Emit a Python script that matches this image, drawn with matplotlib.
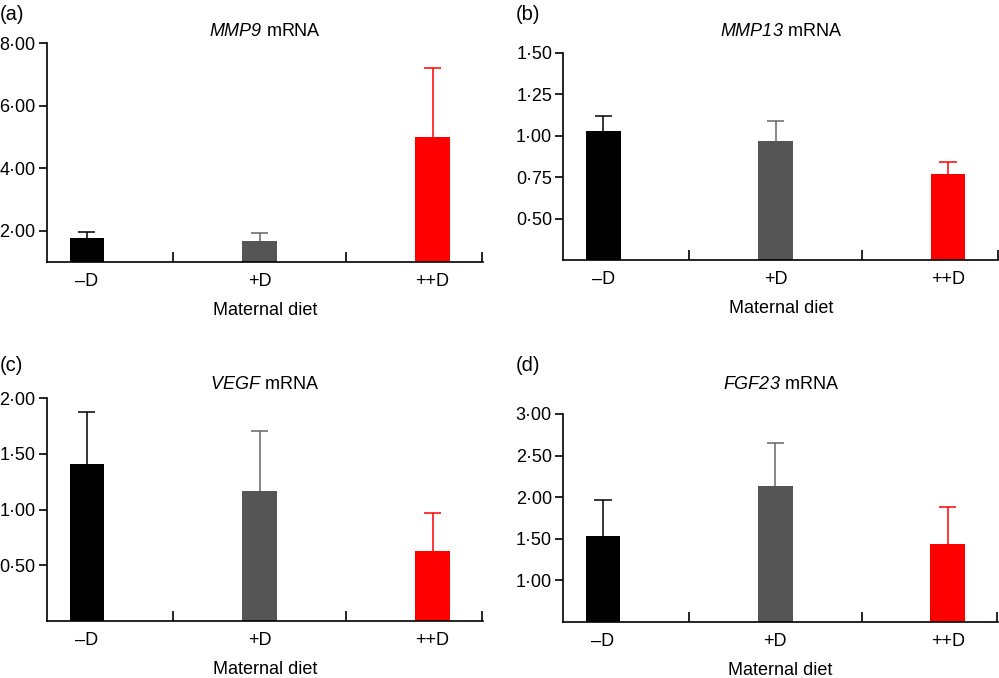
import matplotlib
matplotlib.use("Agg")
from matplotlib import pyplot as plt

plt.rcParams["font.family"] = ["Liberation Sans", "DejaVu Sans"]
plt.rcParams["mathtext.fontset"] = "custom"
plt.rcParams["mathtext.rm"] = "Liberation Sans:italic"
plt.rcParams["mathtext.it"] = "Liberation Sans:italic"

# data
groups = ["\u2013D", "+D", "++D"]
colors = ["#000000", "#555555", "#ff0000"]
err_colors = ["#000000", "#666666", "#ff0000"]

mmp9_mean = [1.76, 1.66, 5.00]
mmp9_err = [0.21, 0.27, 2.20]
mmp13_mean = [1.026, 0.966, 0.766]
mmp13_err = [0.094, 0.123, 0.074]
vegf_mean = [1.41, 1.165, 0.626]
vegf_err = [0.467, 0.545, 0.347]
fgf23_mean = [1.536, 2.133, 1.43]
fgf23_err = [0.434, 0.512, 0.45]

mmp9_ticks = [2, 4, 6, 8]
mmp13_ticks = [0.5, 0.75, 1.0, 1.25, 1.5]
vegf_ticks = [0.5, 1.0, 1.5, 2.0]
fgf23_ticks = [1.0, 1.5, 2.0, 2.5, 3.0]

panels = [
    ("(a)", "MMP9", mmp9_mean, mmp9_err, (1, 8), mmp9_ticks),
    ("(b)", "MMP13", mmp13_mean, mmp13_err, (0.25, 1.5), mmp13_ticks),
    ("(c)", "VEGF", vegf_mean, vegf_err, (0, 2), vegf_ticks),
    ("(d)", "FGF23", fgf23_mean, fgf23_err, (0.5, 3), fgf23_ticks),
]

W, H = 999, 678
# axes boxes in pixels: left, right, top, bottom
boxes = [
    (46.7, 483.0, 43.3, 262.0),
    (563.3, 998.3, 52.7, 260.0),
    (46.7, 483.0, 398.3, 620.7),
    (563.0, 998.0, 414.0, 621.7),
]
label_pos = [(0, 14), (516, 14), (0, 366), (516, 366)]
title_y = [31, 31, 385, 385]

fig = plt.figure(figsize=(W / 100, H / 100), dpi=100)
fs = 13

for (lab, gene, mean, err, ylim, yt), (l, r, t, b), (lx, ly), ty in zip(panels, boxes, label_pos, title_y):
    ax = fig.add_axes([l / W, 1 - b / H, (r - l) / W, (b - t) / H])
    x = list(range(len(groups)))
    ax.bar(x, mean, width=0.2, color=colors, zorder=2)
    tops = [m + e for m, e in zip(mean, err)]
    # upper error bars only, with a cap
    ax.vlines(x, mean, tops, colors=err_colors, linewidth=1.1, zorder=1)
    ax.hlines(tops, [xi - 0.05 for xi in x], [xi + 0.05 for xi in x],
              colors=err_colors, linewidth=1.1, zorder=1)
    xmin, xmax = -0.232, 2.292
    ax.set_xlim(xmin, xmax)
    ax.set_ylim(*ylim)
    ax.spines["top"].set_visible(False)
    ax.spines["right"].set_visible(False)
    for s in ("left", "bottom"):
        ax.spines[s].set_linewidth(1.2)
    ax.set_xticks(x)
    ax.set_xticklabels(groups, fontsize=fs)
    ax.tick_params(axis="x", which="major", length=0, pad=8)
    ax.set_xticks([0.5, 1.5, xmax - 0.004], minor=True)
    ax.tick_params(axis="x", which="minor", direction="in", length=7, width=1.2)
    ax.set_yticks(yt)
    ax.set_yticklabels([("%.2f" % v).replace(".", "\u00b7") for v in yt], fontsize=fs)
    ax.tick_params(axis="y", direction="out", length=6, width=1.2, pad=2)
    ax.set_xlabel("Maternal diet", fontsize=fs, labelpad=8.5)
    cx = (l + r) / 2 / W
    fig.text(cx, 1 - ty / H, r"$%s$ mRNA" % gene, fontsize=fs,
             ha="center", va="center")
    fig.text(lx / W, 1 - ly / H, lab, fontsize=fs + 1.5, ha="left", va="center")

fig.savefig("out.png", dpi=100)
